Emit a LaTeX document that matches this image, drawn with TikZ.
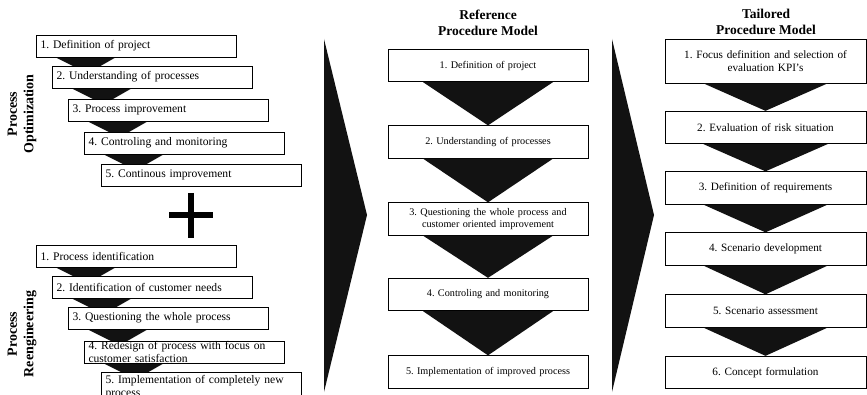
\documentclass[tikz,border=0pt]{standalone}
\usepackage{fontspec}
\setmainfont{Liberation Serif}
\usetikzlibrary{calc,backgrounds}
\frenchspacing
\begin{document}
\begin{tikzpicture}[x=1pt,y=-1pt,
  lbox/.style={draw, line width=0.8pt, fill=white, minimum height=22pt, text width=191pt, align=left, inner xsep=4.5pt, inner ysep=2pt, font=\fontsize{11.6}{13}\selectfont},
  mbox/.style={draw, line width=0.8pt, fill=white, minimum width=200pt, minimum height=32.5pt, text width=192pt, align=center, inner ysep=2pt, font=\fontsize{10.2}{12.5}\selectfont},
  rbox/.style={draw, line width=0.8pt, fill=white, minimum width=201pt, minimum height=32.5pt, text width=193pt, align=center, inner ysep=2pt, font=\fontsize{11.2}{13.5}\selectfont},
  titlelbl/.style={font=\fontsize{13.5}{16}\selectfont\bfseries, align=center},
  sidelbl/.style={font=\fontsize{14}{16.5}\selectfont\bfseries, align=center, rotate=90},
  blk/.style={fill=black!93}
]
\useasboundingbox (0,0) rectangle (867,395);
\clip (0,0) rectangle (867,395);

% ---- left column: Process Optimization
\node[sidelbl] (lopt) at (22,114) {Process\\Optimization};
\node[lbox] (o1) at (136,46) {1. Definition of project};
\node[lbox] (o2) at (152,77) {2. Understanding of processes};
\node[lbox] (o3) at (168,110) {3. Process improvement};
\node[lbox] (o4) at (184,143) {4. Controling and monitoring};
\node[lbox] (o5) at (201,175) {5. Continous improvement};

% plus
\draw[line width=6pt] (191,193) -- (191,238);
\draw[line width=6pt] (169,215) -- (213,215);

% ---- left column: Process Reengineering
\node[sidelbl] (lre) at (22,334) {Process\\Reengineering};
\node[lbox] (e1) at (136,256) {1. Process identification};
\node[lbox] (e2) at (152,287) {2. Identification of customer needs};
\node[lbox] (e3) at (168,318) {3. Questioning the whole process};
\node[lbox, inner ysep=-4pt] (e4) at (184,352) {4. Redesign of process with focus on\\customer satisfaction};
\node[lbox, inner ysep=-4pt, minimum height=30pt] (e5) at (201,387) {5. Implementation of completely new\\process};

\begin{scope}[on background layer]
\foreach \a in {o1,o2,o3,o4,e1,e2,e3,e4}
  \fill[blk] ($(\a.south west)+(20,0)$) -- ($(\a.south west)+(80,0)$) -- ($(\a.south west)+(52,16)$) -- cycle;
\end{scope}

% ---- chevrons
\fill[blk] (324,39) -- (367,215) -- (324,392) -- cycle;
\fill[blk] (612,39) -- (654,215) -- (612,392) -- cycle;

% ---- middle column
\node[titlelbl] (rtitle) at (488,23) {Reference\\Procedure Model};
\node[mbox] (r1) at (488,65.5) {1. Definition of project};
\node[mbox] (r2) at (488,142) {2. Understanding of processes};
\node[mbox] (r3) at (488,219) {3. Questioning the whole process and\\customer oriented improvement};
\node[mbox] (r4) at (488,294.5) {4. Controling and monitoring};
\node[mbox] (r5) at (488,372) {5. Implementation of improved process};
\foreach \a/\b in {r1/r2,r2/r3,r3/r4,r4/r5}
  \fill[blk] ($(\a.south)+(-65,0)$) -- ($(\a.south)+(65,0)$) -- (\b.north) -- cycle;

% ---- right column
\node[titlelbl] (ttitle) at (766,22) {Tailored\\Procedure Model};
\node[rbox, minimum height=44pt] (t1) at (765.5,61) {1. Focus definition and selection of\\evaluation KPI's};
\node[rbox] (t2) at (765.5,127.5) {2. Evaluation of risk situation};
\node[rbox] (t3) at (765.5,188) {3. Definition of requirements};
\node[rbox] (t4) at (765.5,249) {4. Scenario development};
\node[rbox] (t5) at (765.5,311) {5. Scenario assessment};
\node[rbox] (t6) at (765.5,372.5) {6. Concept formulation};
\foreach \a/\b in {t1/t2,t2/t3,t3/t4,t4/t5,t5/t6}
  \fill[blk] ($(\a.south)+(-62,0)$) -- ($(\a.south)+(62,0)$) -- (\b.north) -- cycle;
\end{tikzpicture}
\end{document}
